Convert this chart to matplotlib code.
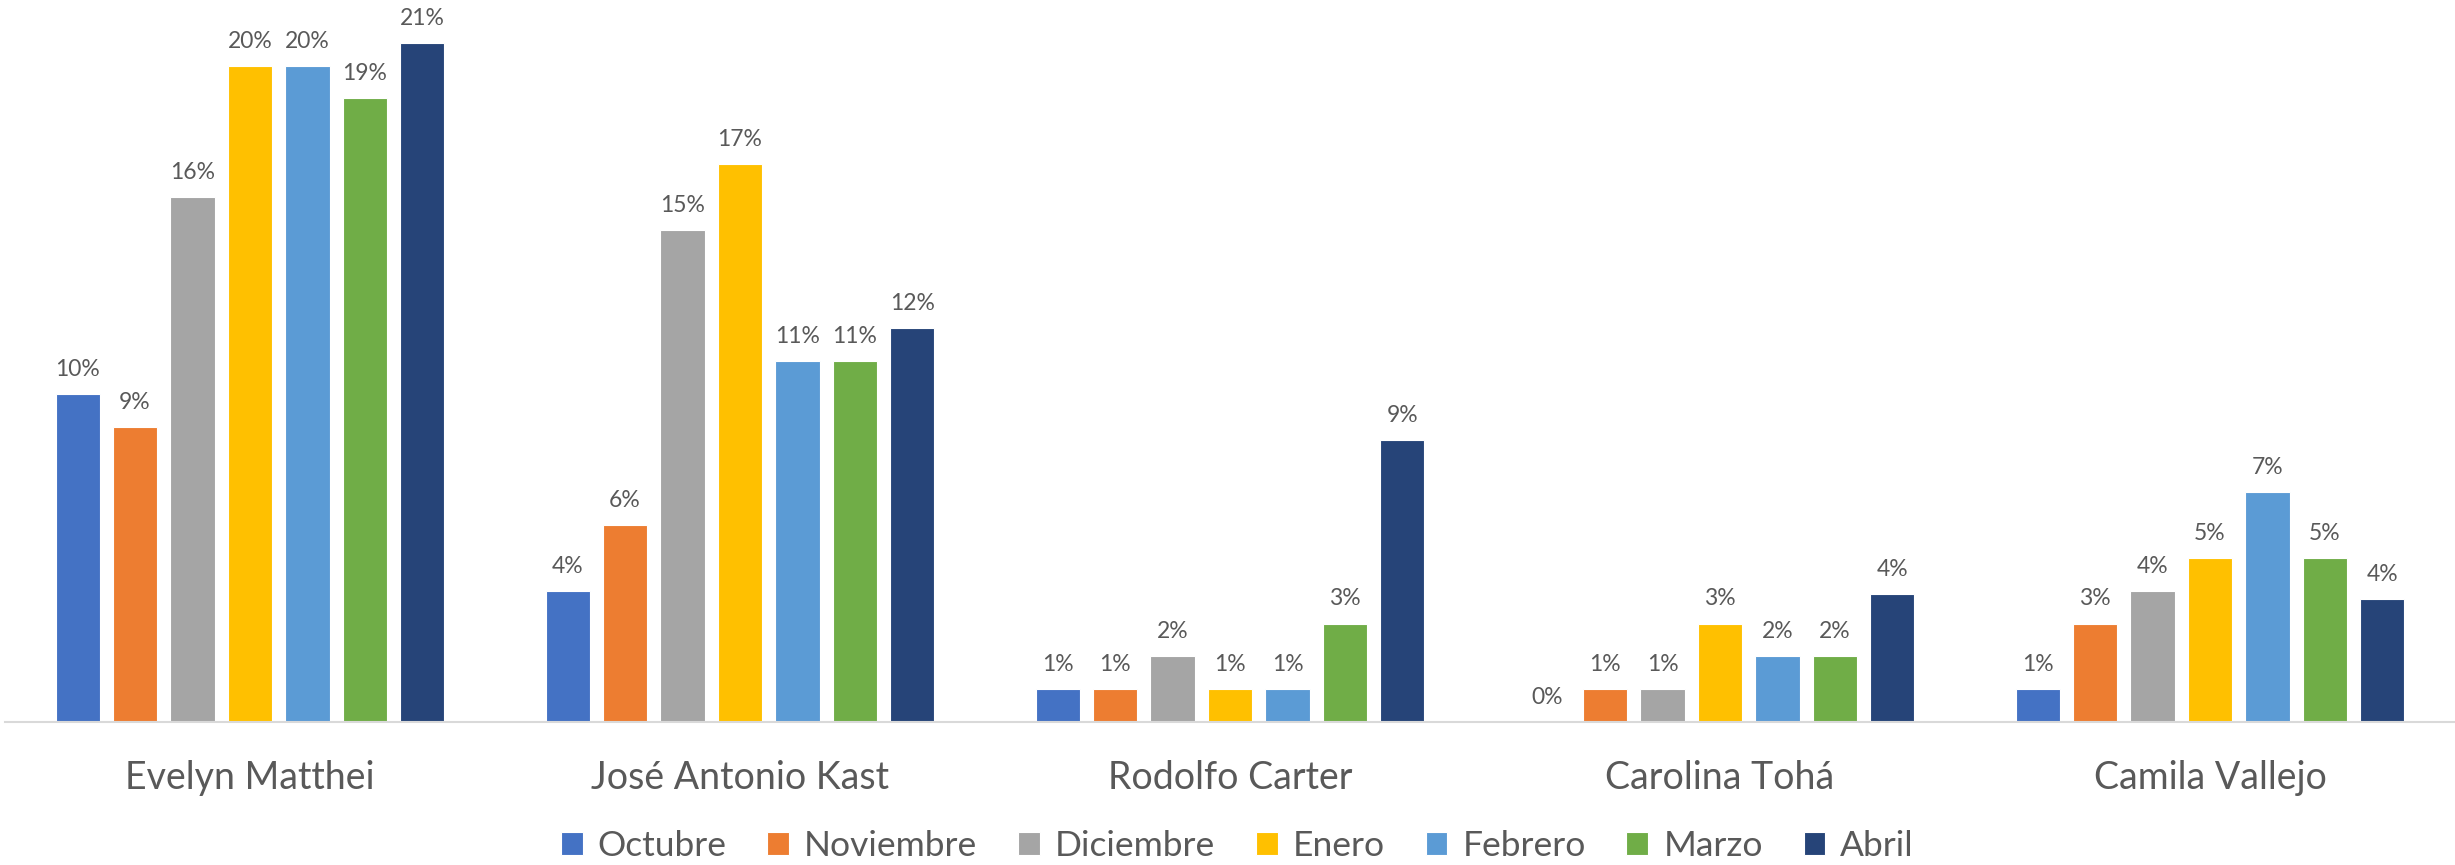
import numpy as np
import matplotlib.pyplot as plt

# Datos (fracción del total)
candidatos = ['Evelyn Matthei', 'José Antonio Kast', 'Rodolfo Carter', 'Carolina Tohá', 'Camila Vallejo']
meses = ['Octubre', 'Noviembre', 'Diciembre', 'Enero', 'Febrero', 'Marzo', 'Abril']

octubre = [0.10, 0.04, 0.01, 0.00, 0.01]
noviembre = [0.09, 0.06, 0.01, 0.01, 0.03]
diciembre = [0.16, 0.15, 0.02, 0.01, 0.04]
enero = [0.20, 0.17, 0.01, 0.03, 0.05]
febrero = [0.20, 0.11, 0.01, 0.02, 0.07]
marzo = [0.19, 0.11, 0.03, 0.02, 0.05]
abril = [0.207, 0.12, 0.086, 0.039, 0.0375]

series = [octubre, noviembre, diciembre, enero, febrero, marzo, abril]
colores = ['#4472C4', '#ED7D31', '#A5A5A5', '#FFC000', '#5B9BD5', '#70AD47', '#264478']

texto = '#595959'
plt.rcParams['font.family'] = ['Lato', 'DejaVu Sans']

fig = plt.figure(figsize=(24.55, 8.65), dpi=100)
ax = fig.add_axes([5 / 2455, (865 - 722) / 865, 1 - 5 / 2455, 722 / 865])

x = np.arange(len(candidatos))
paso = 0.1173
ancho = 0.09
for i, (vals, col, mes) in enumerate(zip(series, colores, meses)):
    pos = x + (i - 3) * paso
    bars = ax.bar(pos, vals, width=ancho, color=col, edgecolor='white',
                  linewidth=0.8, label=mes)
    for b, v in zip(bars, vals):
        ax.annotate(f'{v:.0%}', (b.get_x() + b.get_width() / 2, v),
                    xytext=(0, 13), textcoords='offset points',
                    ha='center', va='baseline', fontsize=16.5, color=texto)

ax.set_xlim(-0.5, 4.5)
ax.set_ylim(0, 0.22)
ax.set_yticks([])
ax.set_xticks([])
for s in ['top', 'right', 'left']:
    ax.spines[s].set_visible(False)
ax.spines['bottom'].set_color('#D9D9D9')
ax.spines['bottom'].set_linewidth(1.5)

# nombres de candidatos bajo el eje
for xi, nombre in zip(x, candidatos):
    ax.text(xi, -(789 - 722) / 722, nombre, transform=ax.get_xaxis_transform(),
            ha='center', va='baseline', fontsize=27, color=texto)

leg = fig.legend(loc='center', bbox_to_anchor=(0.504, 0.022), ncol=7,
                 frameon=False, fontsize=25.5, handlelength=0.62, handleheight=0.62,
                 handletextpad=0.42, columnspacing=1.15, borderaxespad=0)
for t in leg.get_texts():
    t.set_color(texto)

fig.savefig('out.png', dpi=100)
